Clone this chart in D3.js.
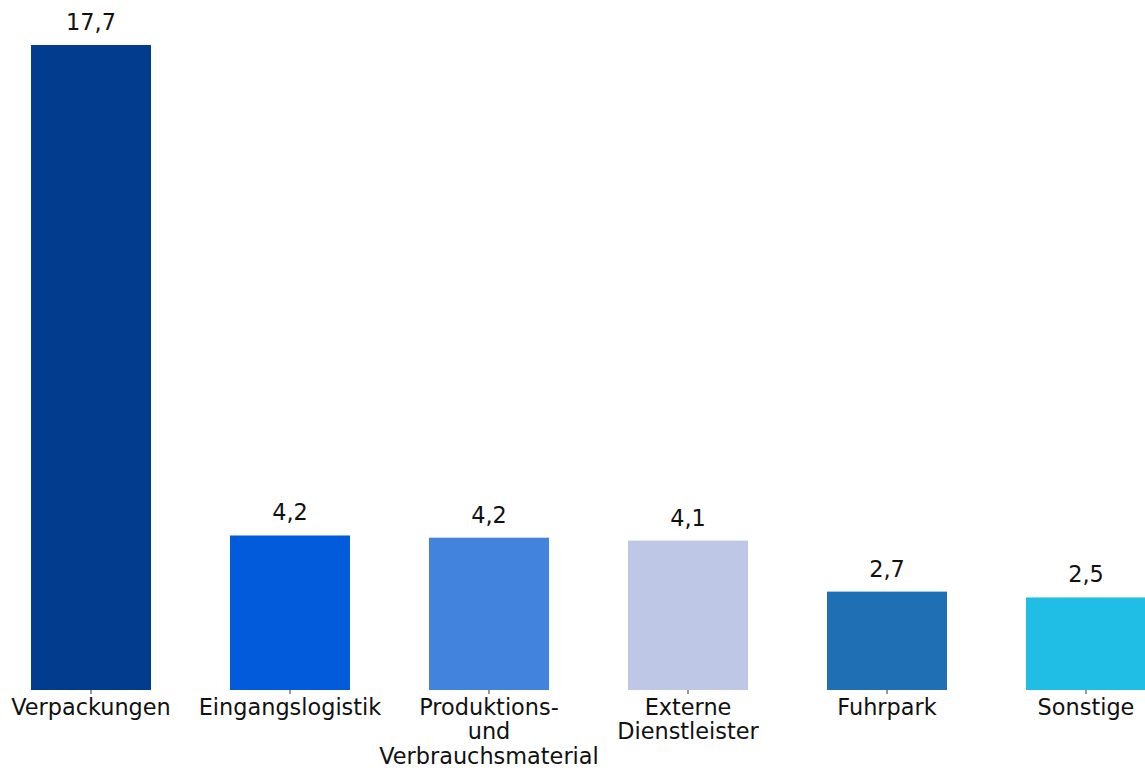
<!DOCTYPE html>
<html>
<head>
<meta charset="utf-8">
<script src="https://cdn.jsdelivr.net/npm/d3@7"></script>
<style>
  html, body { margin: 0; padding: 0; background: #fff; }
  svg text { font-family: "DejaVu Sans", sans-serif; fill: #111; }
</style>
</head>
<body>
<svg id="chart" width="1145" height="771"></svg>
<script>
const categories = ["Verpackungen", "Eingangslogistik", "Produktions- und Verbrauchsmaterial", "Externe Dienstleister", "Fuhrpark", "Sonstige"];
const categoryLines = [["Verpackungen"], ["Eingangslogistik"], ["Produktions-", "und", "Verbrauchsmaterial"], ["Externe", "Dienstleister"], ["Fuhrpark"], ["Sonstige"]];
const values = [17.7, 4.24, 4.18, 4.1, 2.7, 2.54];
const valueLabels = ["17,7", "4,2", "4,2", "4,1", "2,7", "2,5"];
const colors = ["#023c8f", "#015bdb", "#4283dd", "#bec8e6", "#1f6fb4", "#20bee5"];

const svg = d3.select("#chart");
const baseline = 690;

const x = d3.scaleBand().domain(categories).range([31, 1146]).paddingInner(0.397).paddingOuter(0);
const y = d3.scaleLinear().domain([0, 17.7]).range([baseline, 45]);

const data = categories.map((c, i) => ({c, v: values[i], label: valueLabels[i], lines: categoryLines[i], color: colors[i]}));

svg.selectAll("rect.bar").data(data).join("rect")
  .attr("class", "bar")
  .attr("x", d => x(d.c))
  .attr("width", x.bandwidth())
  .attr("y", d => y(d.v))
  .attr("height", d => baseline - y(d.v))
  .attr("fill", d => d.color);

svg.selectAll("text.val").data(data).join("text")
  .attr("class", "val")
  .attr("x", d => x(d.c) + x.bandwidth() / 2)
  .attr("y", d => y(d.v) - 15)
  .attr("text-anchor", "middle")
  .style("font-size", "22.4px")
  .text(d => d.label);

const axis = d3.axisBottom(x).tickSize(4).tickFormat("");
const gx = svg.append("g").attr("transform", `translate(0,${baseline})`).call(axis);
gx.select(".domain").remove();
gx.selectAll(".tick line").attr("stroke", "#333").attr("stroke-width", 1);

const labels = svg.selectAll("text.cat").data(data).join("text")
  .attr("class", "cat")
  .attr("text-anchor", "middle")
  .style("font-size", "22.4px");
labels.each(function(d) {
  const t = d3.select(this);
  d.lines.forEach((ln, j) => {
    t.append("tspan")
      .attr("x", x(d.c) + x.bandwidth() / 2)
      .attr("y", 715 + j * 24.3)
      .text(ln);
  });
});
</script>
</body>
</html>
